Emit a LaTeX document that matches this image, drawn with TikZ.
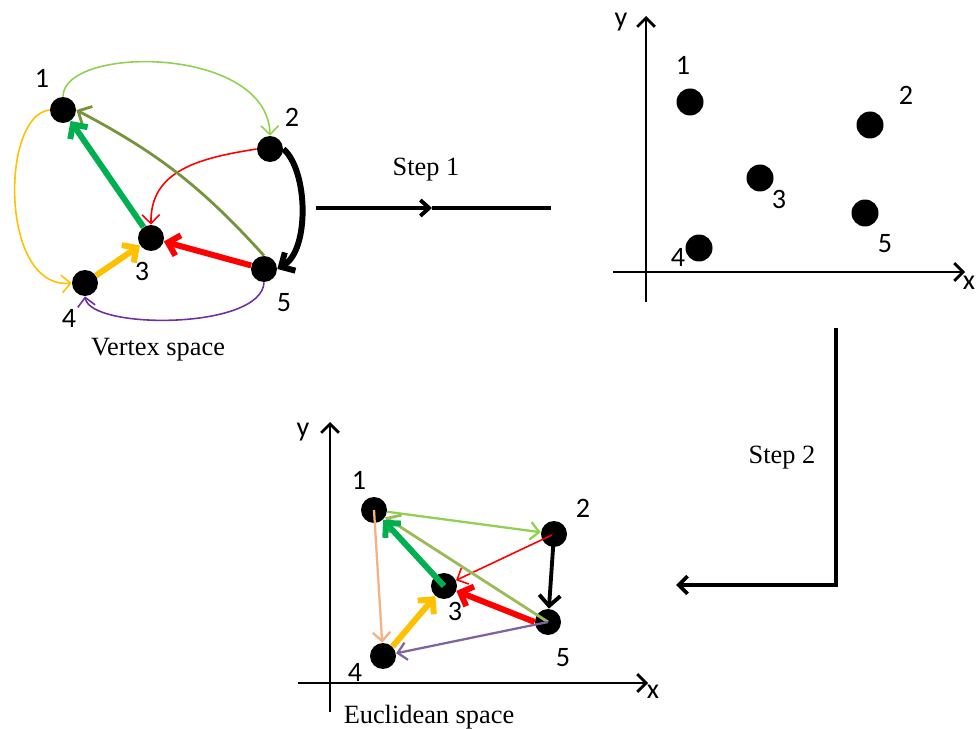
\documentclass[tikz,border=0pt]{standalone}
\usepackage{fontspec}
\setmainfont{Liberation Serif}
\newfontfamily\numfont{Carlito}
\usetikzlibrary{positioning,arrows.meta}
\definecolor{lgreen}{HTML}{92D050}
\definecolor{dgreen}{HTML}{00B050}
\definecolor{olive}{HTML}{77933C}
\definecolor{olivelt}{HTML}{9BBB59}
\definecolor{amber}{HTML}{FFC000}
\definecolor{violet}{HTML}{7030A0}
\definecolor{violetlt}{HTML}{8064A2}
\definecolor{peach}{HTML}{F4B183}

\begin{document}
\begin{tikzpicture}[x=0.02cm, y=-0.02cm,
  dot/.style={circle, fill=black, inner sep=0pt, minimum size=0.52cm},
  bigdot/.style={circle, fill=black, inner sep=0pt, minimum size=0.54cm},
  num/.style={font=\numfont\fontsize{16}{18}\selectfont, inner sep=0pt},
  captxt/.style={font=\fontsize{15}{17}\selectfont, inner sep=0pt},
  thinarc/.style={line width=0.9pt, -{Straight Barb[length=5pt,width=10pt]}},
  midarc/.style={line width=1.6pt, -{Straight Barb[length=6pt,width=12pt]}},
  fatarc/.style={line width=3.4pt, -{Straight Barb[length=6pt,width=12pt]}},
  axis/.style={line width=1.6pt, -{Straight Barb[length=5pt,width=10pt]}},
  stepline/.style={line width=2.2pt}
]
  \useasboundingbox (0,0) rectangle (977,729);

  % vertex space
  \node[dot] (v1) at (63,110) {};
  \node[dot] (v2) at (270,149) {};
  \node[dot] (v3) at (151,238) {};
  \node[dot] (v4) at (85,283) {};
  \node[dot] (v5) at (264,269) {};
  \node[num] (lv1) at (42,78) {1};
  \node[num] (lv2) at (292,117) {2};
  \node[num] (lv3) at (142,271) {3};
  \node[num] (lv4) at (69,318) {4};
  \node[num] (lv5) at (284,303) {5};
  \node[captxt] (vcap) at (158,350) {Vertex space};

  \draw[thinarc, lgreen] (v1.north) .. controls (63,45) and (268,45) .. (v2.north);
  \draw[thinarc, amber] (v1.west) .. controls (0,115) and (0,290) .. (v4.west);
  \draw[thinarc, red] (v2.west) .. controls (200,158) and (150,170) .. (v3.north);
  \draw[midarc, olive] (v5.north) to[bend right=10] (v1.east);
  \draw[fatarc, dgreen] (v3) -- (v1);
  \draw[fatarc, black] (v2.east) .. controls (308,170) and (310,250) .. (v5.east);
  \draw[fatarc, red] (v5) -- (v3);
  \draw[fatarc, amber] (v4) -- (v3);
  \draw[thinarc, violet] (v5.south) .. controls (262,330) and (90,330) .. (v4.south);

  % step 1
  \coordinate (s1a) at (316,208);
  \coordinate (s1m) at (432,208);
  \coordinate (s1b) at (551,208);
  \draw[stepline, -{Straight Barb[length=5pt,width=9pt]}] (s1a) -- (s1m);
  \draw[stepline] (s1m) -- (s1b);
  \node[captxt] (st1) at (426,170) {Step 1};

  % embedding, top right
  \coordinate (ay0) at (646,302);
  \coordinate (ay1) at (646,16);
  \coordinate (ax0) at (613,272);
  \coordinate (ax1) at (965,272);
  \draw[axis] (ay0) -- (ay1);
  \draw[axis] (ax0) -- (ax1);
  \node[num] (ylab) at (621,22) {y};
  \node[num] (xlab) at (969,283) {x};
  \node[bigdot] (e1) at (690,102) {};
  \node[bigdot] (e2) at (870,125) {};
  \node[bigdot] (e3) at (760,178) {};
  \node[bigdot] (e4) at (699,248) {};
  \node[bigdot] (e5) at (865,213) {};
  \node[num] (le1) at (683,65) {1};
  \node[num] (le2) at (906,95) {2};
  \node[num] (le3) at (779,199) {3};
  \node[num] (le4) at (678,257) {4};
  \node[num] (le5) at (885,244) {5};

  % step 2
  \coordinate (s2a) at (836,328);
  \coordinate (s2c) at (836,585);
  \coordinate (s2b) at (676,585);
  \draw[stepline, -{Straight Barb[length=5pt,width=10pt]}] (s2a) -- (s2c) -- (s2b);
  \node[captxt] (st2) at (782,458) {Step 2};

  % euclidean space
  \coordinate (by0) at (330,712);
  \coordinate (by1) at (330,422);
  \coordinate (bx0) at (298,683);
  \coordinate (bx1) at (648,683);
  \draw[axis] (by0) -- (by1);
  \draw[axis] (bx0) -- (bx1);
  \node[num] (ylab2) at (303,432) {y};
  \node[num] (xlab2) at (653,692) {x};
  \node[dot] (u1) at (374,510) {};
  \node[dot] (u2) at (554,534) {};
  \node[dot] (u3) at (444,586) {};
  \node[dot] (u4) at (383,656) {};
  \node[dot] (u5) at (548,622) {};
  \node[num] (lu1) at (359,480) {1};
  \node[num] (lu2) at (583,508) {2};
  \node[num] (lu3) at (455,611) {3};
  \node[num] (lu4) at (355,672) {4};
  \node[num] (lu5) at (563,658) {5};
  \node[captxt] (ucap) at (429,717) {Euclidean space};

  \draw[thinarc, lgreen, line width=1.3pt] (u1) -- (u2);
  \draw[thinarc, peach, line width=1.3pt] (u1.center) -- (u4);
  \draw[thinarc, red] (u2.center) -- (u3);
  \draw[midarc, olivelt] (u5.center) -- (u1);
  \draw[fatarc, dgreen] (u3.center) -- (u1);
  \draw[midarc, black, line width=2.2pt] (u2.center) -- (u5);
  \draw[fatarc, red] (u5.west) -- (u3);
  \draw[fatarc, amber] (u4.north east) -- (u3);
  \draw[thinarc, violetlt, line width=1.3pt] (u5.center) -- (u4);
\end{tikzpicture}
\end{document}
